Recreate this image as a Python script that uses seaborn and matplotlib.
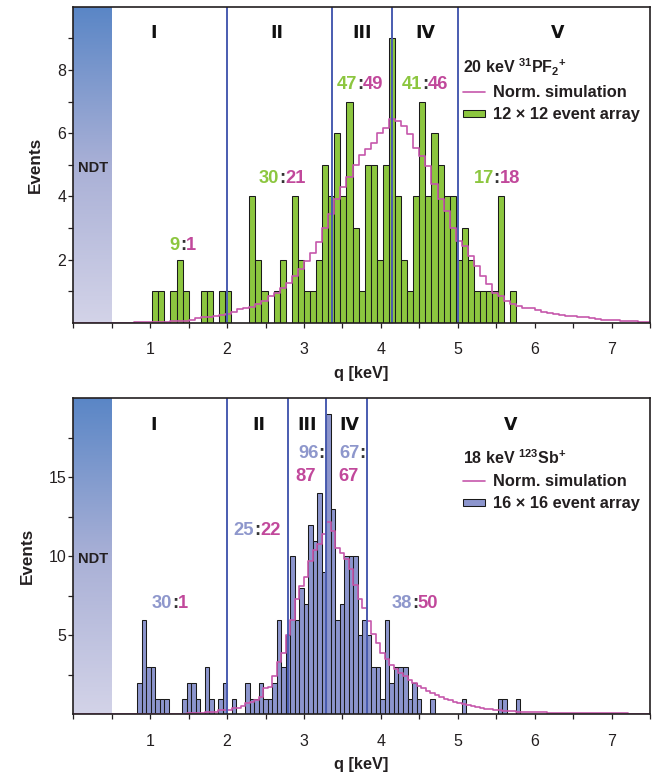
import numpy as np
import pandas as pd
import matplotlib
matplotlib.use("Agg")
import matplotlib.pyplot as plt
import seaborn as sns
from matplotlib import font_manager
from matplotlib.lines import Line2D
from matplotlib.patches import Patch
from matplotlib.colors import LinearSegmentedColormap
from matplotlib.ticker import MultipleLocator, FixedLocator

# ---------------- data ----------------
# 20 keV 31PF2+ : measured events and normalised simulation per charge bin
pf_bin_width = 7.5 / 95
pf_counts = [
    0, 0, 0, 0, 0, 0, 0, 0, 0, 0,
    0, 0, 0, 1, 1, 0, 1, 2, 1, 0,
    0, 1, 1, 0, 1, 1, 0, 0, 0, 4,
    2, 1, 0, 1, 2, 0, 4, 2, 1, 1,
    2, 5, 4, 6, 4, 7, 3, 1, 5, 5,
    2, 5, 9, 4, 2, 1, 4, 7, 4, 6,
    5, 4, 4, 2, 3, 2, 1, 1, 1, 1,
    4, 0, 1, 0, 0, 0, 0, 0, 0, 0,
    0, 0, 0, 0, 0, 0, 0, 0, 0, 0,
    0, 0, 0, 0, 0,
]
pf_sim = [
    0, 0, 0, 0, 0, 0, 0, 0, 0, 0,
    0.02, 0.02, 0.02, 0.02, 0.02, 0.02, 0.05, 0.05, 0.05, 0.10,
    0.14, 0.17, 0.19, 0.20, 0.24, 0.29, 0.35, 0.43, 0.45, 0.50,
    0.60, 0.68, 0.84, 0.95, 1.10, 1.26, 1.48, 1.70, 1.95, 2.20,
    2.55, 3.00, 3.45, 3.90, 4.30, 4.60, 5.00, 5.30, 5.50, 5.70,
    6.00, 6.15, 6.45, 6.38, 6.22, 5.96, 5.54, 5.27, 4.95, 4.38,
    3.90, 3.53, 3.00, 2.58, 2.42, 2.10, 1.79, 1.47, 1.21, 0.95,
    0.84, 0.68, 0.58, 0.53, 0.48, 0.45, 0.40, 0.35, 0.30, 0.28,
    0.25, 0.22, 0.20, 0.18, 0.17, 0.14, 0.12, 0.10, 0.08, 0.07,
    0.06, 0.05, 0.04, 0.03, 0.03,
]
pf_bounds = [2.0, 3.37, 4.14, 5.0]
pf_exp_totals = [9, 30, 47, 41, 17]
pf_sim_totals = [1, 21, 49, 46, 18]

# 18 keV 123Sb+ : measured events and normalised simulation per charge bin
sb_bin_start = 0.01
sb_bin_width = 0.0586
sb_counts = [
    0, 0, 0, 0, 0, 0, 0, 0, 0, 0,
    0, 0, 0, 0, 2, 6, 3, 3, 1, 1,
    1, 0, 0, 0, 1, 2, 2, 1, 0, 3,
    1, 0, 1, 2, 0, 1, 0, 0, 2, 1,
    1, 2, 1, 1, 2, 6, 3, 5, 10, 6,
    8, 7, 12, 11, 14, 9, 19, 13, 6, 7,
    10, 10, 10, 5, 6, 5, 3, 3, 1, 6,
    2, 3, 3, 3, 1, 2, 1, 0, 0, 1,
    0, 0, 0, 0, 0, 0, 1, 0, 0, 0,
    0, 0, 0, 0, 1, 1, 0, 0, 1, 0,
    0, 0, 0, 0, 0, 0, 0, 0, 0, 0,
    0, 0, 0, 0, 0, 0, 0, 0, 0, 0,
    0, 0, 0, 0, 0, 0, 0, 0,
]
sb_sim = [
    0, 0, 0, 0, 0, 0, 0, 0, 0, 0,
    0, 0, 0, 0, 0, 0, 0, 0, 0, 0,
    0.03, 0.03, 0.03, 0.03, 0.03, 0.06, 0.06, 0.06, 0.06, 0.13,
    0.13, 0.13, 0.27, 0.27, 0.27, 0.38, 0.38, 0.55, 0.70, 0.75,
    0.90, 1.10, 1.65, 1.75, 2.40, 3.30, 3.90, 5.00, 6.00, 7.30,
    8.10, 8.70, 9.70, 10.40, 10.80, 11.40, 12.20, 11.60, 10.50, 10.20,
    9.80, 9.20, 8.20, 7.30, 6.70, 5.90, 5.10, 4.50, 3.90, 3.50,
    3.10, 2.90, 2.60, 2.40, 2.20, 2.00, 1.80, 1.65, 1.50, 1.35,
    1.25, 1.10, 1.00, 0.90, 0.80, 0.72, 0.65, 0.58, 0.50, 0.45,
    0.40, 0.36, 0.32, 0.29, 0.26, 0.23, 0.20, 0.18, 0.17, 0.16,
    0.15, 0.14, 0.13, 0.12, 0.12, 0.11, 0.11, 0.10, 0.10, 0.09,
    0.09, 0.08, 0.08, 0.08, 0.07, 0.07, 0.07, 0.07, 0.06, 0.06,
    0.06, 0.06, 0.06, 0.05, 0.05, 0.05, 0.05, 0.05,
]
sb_bounds = [2.0, 2.795, 3.29, 3.825]
sb_exp_totals = [30, 25, 96, 67, 38]
sb_sim_totals = [1, 22, 87, 67, 50]

region_names = ["I", "II", "III", "IV", "V"]
x_tick_values = [1, 2, 3, 4, 5, 6, 7]

# ---------------- style ----------------
sns.set_style("ticks")
installed = {f.name for f in font_manager.fontManager.ttflist}
MAIN = "Liberation Sans" if "Liberation Sans" in installed else "DejaVu Sans"
NARROW = "Liberation Sans Narrow" if "Liberation Sans Narrow" in installed else MAIN
plt.rcParams["font.family"] = [MAIN, "DejaVu Sans"]
plt.rcParams["mathtext.fontset"] = "custom"
plt.rcParams["mathtext.rm"] = MAIN
plt.rcParams["mathtext.bf"] = MAIN + ":bold"

GREEN = "#8cc63f"
LAVENDER = "#8c95cd"
LAV_TEXT = "#8e97cc"
MAGENTA_TEXT = "#c1489b"
SIM_COLOR = "#c657ab"
BOUND_COLOR = "#4a5cb0"
DARK = "#231f20"
EDGE = "#1a1a1a"
LABEL_SIZE = 13.2

ndt_cmap = LinearSegmentedColormap.from_list(
    "ndt", ["#d3d3e8", "#a9b0d6", "#5a86c6"])
gradient = np.linspace(0, 1, 256).reshape(-1, 1)

fig = plt.figure(figsize=(6.6, 7.75), dpi=100)
ax_top = fig.add_axes([0.1111, 0.5836, 0.8737, 0.4077])
ax_bot = fig.add_axes([0.1111, 0.0783, 0.8737, 0.4077])


def ratio_label(ax, x, y, a, b, color_a, size=LABEL_SIZE):
    """Experiment:simulation count pair centred on the colon."""
    half = 0.333 * size / 2
    kw = dict(xycoords="data", textcoords="offset points", va="baseline",
              fontsize=size, fontweight="bold", zorder=6)
    ax.annotate(":", (x, y), xytext=(0, 0), ha="center", color="#333333", **kw)
    ax.annotate(a, (x, y), xytext=(-half, 0), ha="right", color=color_a, **kw)
    ax.annotate(b, (x, y), xytext=(half, 0), ha="left", color=MAGENTA_TEXT, **kw)


def panel(ax, edges, counts, sim, bar_color, ymax, bounds, title, label):
    centers = 0.5 * (edges[:-1] + edges[1:])
    df = pd.DataFrame({"q": centers, "events": counts, "sim": sim})
    bin_list = [float(e) for e in edges]

    # non-detectable threshold band
    ax.imshow(gradient, extent=[0, 0.5, 0, ymax], origin="lower",
              cmap=ndt_cmap, aspect="auto", zorder=0)

    sns.histplot(data=df, x="q", weights="events", bins=bin_list, ax=ax,
                 color=bar_color, edgecolor=EDGE, linewidth=0.75, alpha=1,
                 zorder=2)
    sns.histplot(data=df, x="q", weights="sim", bins=bin_list, ax=ax,
                 element="step", fill=False, color=SIM_COLOR, linewidth=1.2,
                 zorder=3)
    for b in bounds:
        ax.axvline(b, color=BOUND_COLOR, lw=1.4, zorder=4)

    ax.set_xlim(0, 7.5)
    ax.set_ylim(0, ymax)
    ax.xaxis.set_major_locator(FixedLocator(x_tick_values))
    ax.xaxis.set_minor_locator(MultipleLocator(0.5))
    for s in ax.spines.values():
        s.set_visible(True)
        s.set_linewidth(1.2)
        s.set_color(DARK)
        s.set_zorder(7)
    ax.tick_params(which="both", direction="out", length=3.6, width=0.9,
                   color=DARK, labelcolor=DARK)
    ax.tick_params(axis="x", which="major", pad=10.5)
    ax.tick_params(axis="y", which="major", pad=1.5)
    ax.set_xlabel("q [keV]", fontfamily=NARROW, fontweight="bold",
                  fontsize=11.8, color=DARK, labelpad=6)
    ax.set_ylabel("Events", fontfamily=NARROW, fontweight="bold",
                  fontsize=12.3, color=DARK, labelpad=10)

    handles = [Line2D([], [], color=SIM_COLOR, lw=1.2),
               Patch(facecolor=bar_color, edgecolor=EDGE, linewidth=0.75)]
    leg = ax.legend(handles, ["Norm. simulation", label], title=title,
                    loc="upper left", bbox_to_anchor=(0.676, 0.843),
                    frameon=False, alignment="left",
                    prop=dict(weight="bold", size=11.8),
                    title_fontproperties=dict(weight="bold", size=11.5),
                    handlelength=1.35, handleheight=0.32, handletextpad=0.5,
                    labelspacing=0.45, borderpad=0, borderaxespad=0)
    for t in leg.get_texts():
        t.set_color(DARK)
    leg.get_title().set_color(DARK)
    leg.set_zorder(6)


def style_ticklabels(ax):
    for t in ax.get_xticklabels() + ax.get_yticklabels():
        t.set_fontfamily(NARROW)
        t.set_fontsize(11.5)


def numerals(ax, positions, y):
    for name, xq in zip(region_names, positions):
        ax.text(xq, y, name, ha="center", va="baseline", fontsize=12.5,
                fontweight="bold", family=["DejaVu Sans"], color="#111111",
                zorder=6)


# ---------------- top panel: 31PF2+ ----------------
pf_edges = np.arange(len(pf_counts) + 1) * pf_bin_width
panel(ax_top, pf_edges, pf_counts, pf_sim, GREEN, 10, pf_bounds,
      r"20 keV $^{\mathbf{31}}$PF$_{\mathbf{2}}$$^{\mathbf{+}}$",
      "12 × 12 event array")
ax_top.yaxis.set_major_locator(FixedLocator([2, 4, 6, 8]))
ax_top.yaxis.set_minor_locator(FixedLocator([1, 3, 5, 7, 9]))
style_ticklabels(ax_top)

numerals(ax_top, [1.04, 2.65, 3.75, 4.585, 6.30], 9.0)
ax_top.text(0.26, 4.78, "NDT", ha="center", va="baseline", fontsize=10.5,
            fontweight="bold", color=DARK, zorder=6)
for (xq, yq), a, b in zip([(1.426, 2.30), (2.717, 4.41), (3.73, 7.39),
                           (4.576, 7.39), (5.507, 4.41)],
                          pf_exp_totals, pf_sim_totals):
    ratio_label(ax_top, xq, yq, str(a), str(b), GREEN)

# ---------------- bottom panel: 123Sb+ ----------------
sb_edges = sb_bin_start + np.arange(len(sb_counts) + 1) * sb_bin_width
panel(ax_bot, sb_edges, sb_counts, sb_sim, LAVENDER, 20, sb_bounds,
      r"18 keV $^{\mathbf{123}}$Sb$^{\mathbf{+}}$",
      "16 × 16 event array")
ax_bot.yaxis.set_major_locator(FixedLocator([5, 10, 15]))
ax_bot.yaxis.set_minor_locator(FixedLocator([2.5, 7.5, 12.5, 17.5]))
style_ticklabels(ax_bot)

numerals(ax_bot, [1.04, 2.41, 3.04, 3.585, 5.69], 18.0)
ax_bot.text(0.26, 9.56, "NDT", ha="center", va="baseline", fontsize=10.5,
            fontweight="bold", color=DARK, zorder=6)

ratio_label(ax_bot, 1.326, 6.71, str(sb_exp_totals[0]), str(sb_sim_totals[0]), LAV_TEXT)
ratio_label(ax_bot, 2.39, 11.35, str(sb_exp_totals[1]), str(sb_sim_totals[1]), LAV_TEXT)
ratio_label(ax_bot, 4.442, 6.71, str(sb_exp_totals[4]), str(sb_sim_totals[4]), LAV_TEXT)

# stacked pairs in the narrow regions III and IV
stack_kw = dict(va="baseline", fontsize=LABEL_SIZE, fontweight="bold", zorder=6)
for x_colon, x_left, a, b in [(3.19, 2.89, sb_exp_totals[2], sb_sim_totals[2]),
                              (3.725, 3.45, sb_exp_totals[3], sb_sim_totals[3])]:
    ax_bot.text(x_colon, 16.2, str(a), ha="right", color=LAV_TEXT, **stack_kw)
    ax_bot.text(x_colon, 16.2, ":", ha="left", color="#333333", **stack_kw)
    ax_bot.text(x_left, 14.77, str(b), ha="left", color=MAGENTA_TEXT, **stack_kw)

fig.savefig("out.png", dpi=100)
